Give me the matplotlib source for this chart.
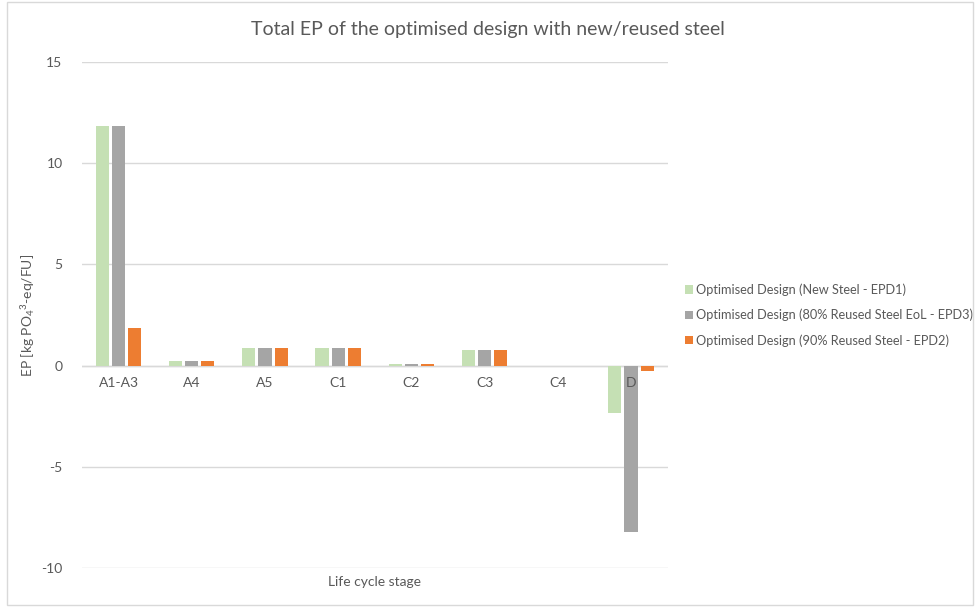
import numpy as np
import matplotlib
matplotlib.use("Agg")
import matplotlib.pyplot as plt
from matplotlib.patches import Rectangle

plt.rcParams['font.family'] = ['Lato', 'DejaVu Sans']
plt.rcParams['mathtext.fontset'] = 'custom'
plt.rcParams['mathtext.rm'] = 'Lato'
plt.rcParams['mathtext.it'] = 'Lato'
plt.rcParams['axes.unicode_minus'] = False

# life cycle stages and EP per design variant
stages = ['A1-A3', 'A4', 'A5', 'C1', 'C2', 'C3', 'C4', 'D']
new_steel = [11.85, 0.25, 0.88, 0.88, 0.08, 0.75, 0.0, -2.33]
reused_80 = [11.85, 0.25, 0.88, 0.88, 0.08, 0.75, 0.0, -8.2]
reused_90 = [1.88, 0.25, 0.88, 0.88, 0.08, 0.75, 0.0, -0.25]
series_names = ['Optimised Design (New Steel - EPD1)',
                'Optimised Design (80% Reused Steel EoL - EPD3)',
                'Optimised Design (90% Reused Steel - EPD2)']
colors = ['#C5E0B4', '#A5A5A5', '#ED7D31']

text_col = '#595959'
fig = plt.figure(figsize=(9.76, 6.07), dpi=100)
fig.patches.append(Rectangle((0.007, 0.003), 0.99, 0.994, transform=fig.transFigure,
                             fill=False, edgecolor='#D9D9D9', lw=1))
ax = fig.add_axes([0.084, 0.064, 0.600, 0.834])

x = np.arange(len(stages))
w = 0.18
for i, (vals, name, c) in enumerate(zip([new_steel, reused_80, reused_90], series_names, colors)):
    ax.bar(x + (i - 1) * 0.22, vals, width=w, color=c, label=name, zorder=3)

ax.set_ylim(-10, 15)
ax.set_xlim(-0.5, len(stages) - 0.5)
ax.set_yticks([-10, -5, 0, 5, 10, 15])
ax.grid(axis='y', color='#D9D9D9', lw=1, zorder=0)
ax.axhline(0, color='#D9D9D9', lw=1, zorder=2)
for s in ax.spines.values():
    s.set_visible(False)
ax.tick_params(axis='both', length=0, colors=text_col, labelsize=10)
ax.tick_params(axis='y', pad=14)

# category labels sit just under the zero line
ax.set_xticks([])
for xi, lab in zip(x, stages):
    ax.text(xi, -0.55, lab, ha='center', va='top', fontsize=10, color=text_col, zorder=4)

ax.set_xlabel('Life cycle stage', color=text_col, fontsize=10, labelpad=6)
ax.set_ylabel(r'EP [kg PO$_4$$^3$-eq/FU]', color=text_col, fontsize=10)
ax.yaxis.set_label_coords(-0.077, 0.5)
fig.suptitle('Total EP of the optimised design with new/reused steel', y=0.965,
             color=text_col, fontsize=14)

ax.legend(loc='center left', bbox_to_anchor=(1.01, 0.5), frameon=False,
          fontsize=9.2, labelcolor=text_col, handlelength=0.6, handleheight=0.6,
          handletextpad=0.3, labelspacing=1.0)

fig.savefig('out.png', dpi=100)
